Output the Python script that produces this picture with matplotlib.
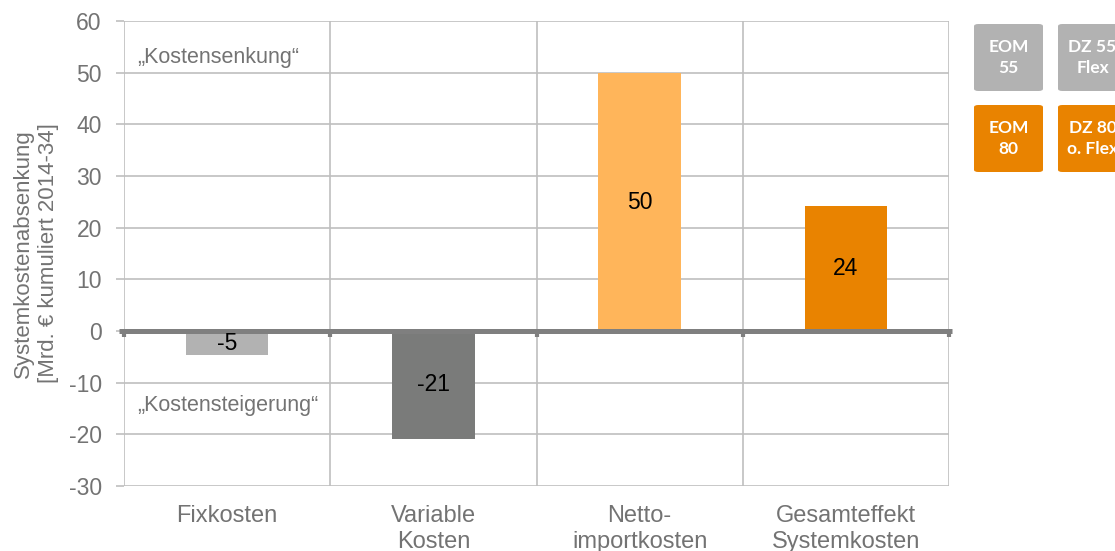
import matplotlib
matplotlib.use("Agg")
import matplotlib.pyplot as plt
from matplotlib.patches import FancyBboxPatch
import matplotlib.transforms as mtransforms

plt.rcParams['font.family'] = ['Liberation Sans', 'DejaVu Sans']

categories = ["Fixkosten", "Variable\nKosten", "Netto-\nimportkosten", "Gesamteffekt\nSystemkosten"]
values = [-4.7, -20.9, 49.9, 24.1]
bar_colors = ["#b2b2b2", "#7a7b7a", "#ffb55a", "#e98300"]
yticks = [-30, -20, -10, 0, 10, 20, 30, 40, 50, 60]
legend_labels = [["EOM\n55", "DZ 55\nFlex"], ["EOM\n80", "DZ 80\no. Flex"]]
legend_colors = ["#b2b2b2", "#e98300"]

fig = plt.figure(figsize=(11.15, 5.51), dpi=100)
ax = fig.add_axes([124/1115, 1-486/551, (949-124)/1115, (486-21)/551])

grid_c = "#bfbfbf"
text_c = "#737373"
x = list(range(len(categories)))
ax.bar(x, values, width=0.4, color=bar_colors, zorder=2)
for xi, v in zip(x, values):
    ax.text(xi, v/2, f"{v:.0f}", ha="center", va="center", fontsize=16.5, color="black", zorder=4)

ax.set_xlim(-0.5, len(categories)-0.5)
ax.set_ylim(-30, 60)
ax.set_yticks(yticks)
ax.set_yticklabels([str(t) for t in yticks], fontsize=16.5, color=text_c)
ax.set_xticks(x)
ax.set_xticklabels(categories, fontsize=17, color=text_c, va="top", linespacing=1.22)
ax.tick_params(axis="x", length=0, pad=14)
ax.tick_params(axis="y", length=6, color=grid_c, width=1.2, pad=10)
ax.set_xticks([i-0.5 for i in range(len(categories)+1)], minor=True)
ax.tick_params(axis="x", which="minor", length=0)
ax.grid(axis="y", which="major", color=grid_c, lw=1.2, zorder=0)
ax.grid(axis="x", which="minor", color=grid_c, lw=1.2, zorder=0)
ax.grid(axis="x", which="major", visible=False)
for s in ax.spines.values():
    s.set_visible(False)

# zero axis line
trans = mtransforms.blended_transform_factory(ax.transAxes, ax.transData)
ax.plot([-0.006, 1.004], [0, 0], transform=trans, color="#7f7f7f", lw=3.6, zorder=3, clip_on=False, solid_capstyle="butt")
for i in range(len(categories)+1):
    ax.plot([i-0.5, i-0.5], [0, -1.2], color="#7f7f7f", lw=3.0, zorder=3, clip_on=False, solid_capstyle="butt")

ax.set_ylabel("Systemkostenabsenkung\n[Mrd. € kumuliert 2014-34]", fontsize=16, color=text_c, linespacing=1.3)
ax.yaxis.label.set_va("center")
ax.yaxis.set_label_coords((36-124)/825, 0.5)

ax.text(-0.437, 53, "„Kostensenkung“", fontsize=15.5, color=text_c, va="center", ha="left")
ax.text(-0.437, -14.5, "„Kostensteigerung“", fontsize=15.5, color=text_c, va="center", ha="left")

# legend boxes
W, H = 1115, 551
boxes_x = [974, 1058]
boxes_y = [24, 105]
bw, bh = 69, 67
for r, (by, col) in enumerate(zip(boxes_y, legend_colors)):
    for c, bx in enumerate(boxes_x):
        p = FancyBboxPatch((bx/W, 1-(by+bh)/H), bw/W, bh/H,
                           boxstyle="round,pad=0,rounding_size=0.004",
                           transform=fig.transFigure, facecolor=col, edgecolor="none")
        fig.patches.append(p)
        fig.text((bx+bw/2)/W, 1-(by+bh/2)/H, legend_labels[r][c], ha="center", va="center",
                 fontsize=12.5, color="white", fontweight="bold", family=["Lato", "DejaVu Sans"],
                 linespacing=1.45)

fig.savefig("out.png", dpi=100)
